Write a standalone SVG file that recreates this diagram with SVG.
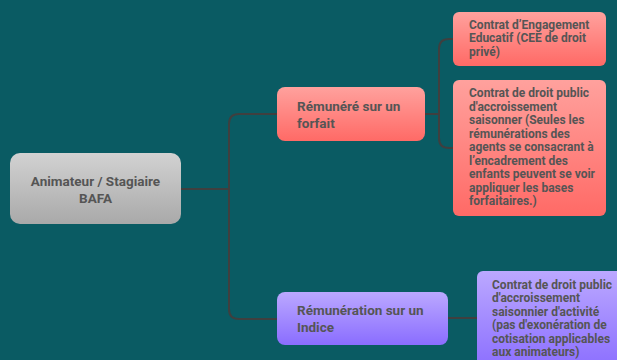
<svg xmlns="http://www.w3.org/2000/svg" width="617" height="360" viewBox="0 0 617 360">
<defs>
<linearGradient id="gGray" x1="0" y1="0" x2="0" y2="1"><stop offset="0" stop-color="#d2d2d2"/><stop offset="1" stop-color="#a9a9a9"/></linearGradient>
<linearGradient id="gRed" x1="0" y1="0" x2="0" y2="1"><stop offset="0" stop-color="#ffa19d"/><stop offset="1" stop-color="#ff6a66"/></linearGradient>
<linearGradient id="gPur" x1="0" y1="0" x2="0" y2="1"><stop offset="0" stop-color="#bba8ff"/><stop offset="1" stop-color="#8a6dff"/></linearGradient>
<style>
.t{font-family:Roboto,"Liberation Sans",sans-serif;font-weight:bold;fill:#555555}
.m{font-size:13.5px}
.s{font-size:12px}
.c{fill:none;stroke:#3f3f3f;stroke-width:2}
</style>
</defs>
<rect width="617" height="360" fill="#0a5b63"/>
<g id="connectors">
<path class="c" d="M175 189H229"/>
<path class="c" d="M229 189V124Q229 114 239 114H284"/>
<path class="c" d="M229 189V309Q229 319 239 319H284"/>
<path class="c" d="M419 114H439"/>
<path class="c" d="M439 114V49Q439 39 449 39H459"/>
<path class="c" d="M439 114V138Q439 148 449 148H459"/>
<path class="c" d="M441 318H483"/>
</g>
<g id="root">
<rect x="10" y="153" width="171" height="71" rx="10" fill="url(#gGray)"/>
<text class="t m" x="95.5" y="186" text-anchor="middle">Animateur / Stagiaire</text>
<text class="t m" x="95.5" y="203" text-anchor="middle">BAFA</text>
</g>
<g id="forfait">
<rect x="277" y="87" width="148" height="54" rx="8" fill="url(#gRed)"/>
<text class="t m" x="297" y="111">Rémunéré sur un</text>
<text class="t m" x="297" y="128">forfait</text>
</g>
<g id="cee">
<rect x="453" y="12" width="153" height="54" rx="6" fill="url(#gRed)"/>
<text class="t s" x="469" y="28.5">Contrat d’Engagement</text>
<text class="t s" x="469" y="42">Educatif (CEE de droit</text>
<text class="t s" x="469" y="55.5">privé)</text>
</g>
<g id="droitpublic">
<rect x="453" y="80" width="153" height="136" rx="6" fill="url(#gRed)"/>
<text class="t s" x="469" y="97">Contrat de droit public</text>
<text class="t s" x="469" y="110.5">d'accroissement</text>
<text class="t s" x="469" y="124">saisonner (Seules les</text>
<text class="t s" x="469" y="137.5">rémunérations des</text>
<text class="t s" x="469" y="151">agents se consacrant à</text>
<text class="t s" x="469" y="164.5">l’encadrement des</text>
<text class="t s" x="469" y="178">enfants peuvent se voir</text>
<text class="t s" x="469" y="191.5">appliquer les bases</text>
<text class="t s" x="469" y="205">forfaitaires.)</text>
</g>
<g id="indice">
<rect x="277" y="292" width="171" height="53" rx="8" fill="url(#gPur)"/>
<text class="t m" x="297" y="315">Rémunération sur un</text>
<text class="t m" x="297" y="332">Indice</text>
</g>
<g id="saisonnier">
<rect x="477" y="271" width="150" height="100" rx="6" fill="url(#gPur)"/>
<text class="t s" x="492" y="288.5">Contrat de droit public</text>
<text class="t s" x="492" y="302">d'accroissement</text>
<text class="t s" x="492" y="315.5">saisonnier d'activité</text>
<text class="t s" x="492" y="329">(pas d'exonération de</text>
<text class="t s" x="492" y="342.5">cotisation applicables</text>
<text class="t s" x="492" y="356">aux animateurs)</text>
</g>
</svg>
